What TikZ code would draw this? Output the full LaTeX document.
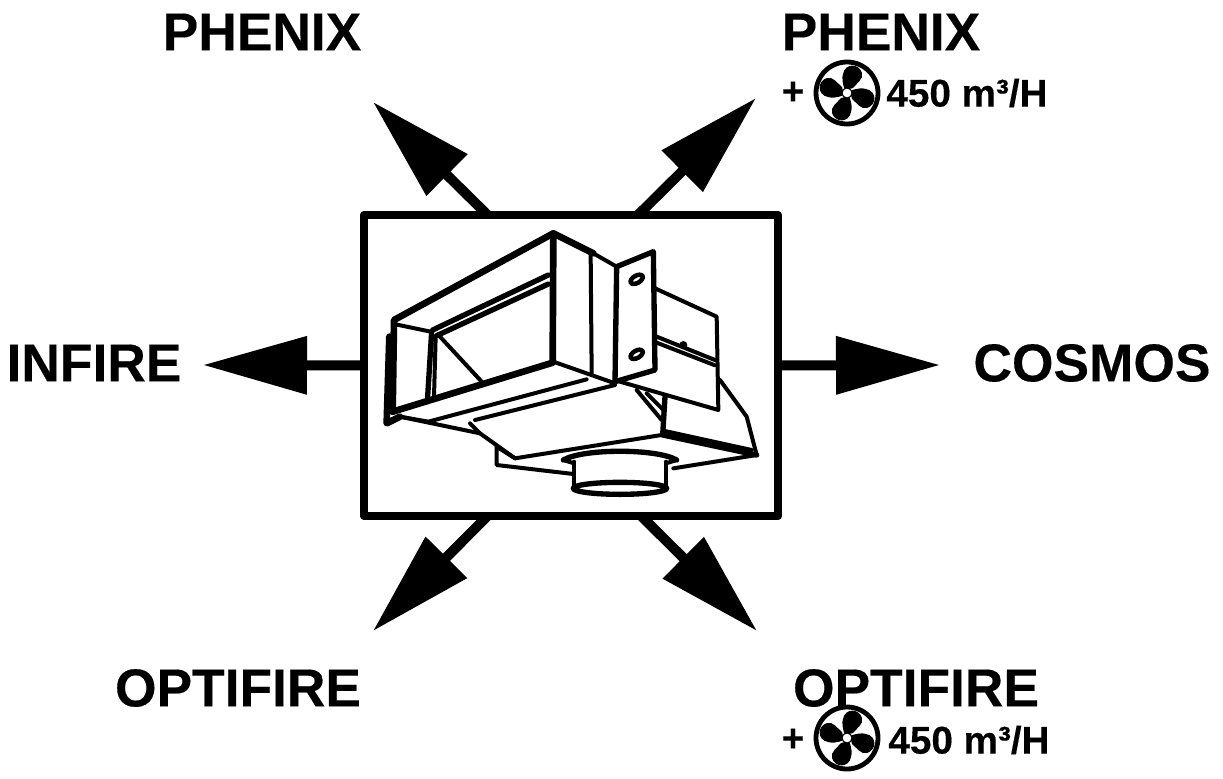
\documentclass[tikz,border=0pt]{standalone}
\usepackage{fontspec}
\setmainfont[FakeBold=0.25]{Liberation Sans}
\usetikzlibrary{arrows.meta}
\tikzset{
	bigtext/.style={font=\fontsize{40pt}{44pt}\selectfont\bfseries, inner sep=0pt},
	smalltext/.style={font=\fontsize{29pt}{32pt}\selectfont\bfseries, inner sep=0pt},
	framebox/.style={draw, line width=6.4pt, line join=round, outer sep=0pt, minimum width=310.5pt, minimum height=225.75pt},
	flowarrow/.style={line width=7.5pt, -{Triangle[length=78pt, width=42pt]}},
	heavyline/.style={line width=5pt, line join=round, line cap=round},
	thickline/.style={line width=4pt, line join=round, line cap=round},
	midline/.style={line width=3pt, line join=round, line cap=round},
	fanwheel/.pic={
		\draw[line width=3.6pt] (0,0) circle (31);
		\foreach \r in {0,90,180,270}
			\fill[rotate=\r] (-2,-3) .. controls (-5,-10) and (-5,-16) .. (-4,-19)
				.. controls (-2,-30) and (12,-30) .. (15,-20)
				.. controls (17,-14) and (9,-9) .. (6,-5) -- cycle;
		\filldraw[fill=white, draw=black, line width=0.8pt] (0,0) circle (5);
	}
}
\begin{document}
\begin{tikzpicture}[x=0.75pt, y=-0.75pt]
	\useasboundingbox (0,0) rectangle (1223,778);
	% Rahmen
	\node[framebox] (box) at (571,365.5) {};
	% Pfeile
	\coordinate (tipnw) at (373,102);
	\coordinate (tipne) at (756,98);
	\coordinate (tipw) at (203,365);
	\coordinate (tipe) at (940,365);
	\coordinate (tipsw) at (373,631);
	\coordinate (tipse) at (757,631);
	\draw[flowarrow] (box.119.5) -- (tipnw);
	\draw[flowarrow] (box.66) -- (tipne);
	\draw[flowarrow] (box.west) -- (tipw);
	\draw[flowarrow] (box.east) -- (tipe);
	\draw[flowarrow] (box.241.1) -- (tipsw);
	\draw[flowarrow] (box.295.3) -- (tipse);
	% Beschriftung
	\node[bigtext] (phenixl) at (262,32) {PHENIX};
	\node[bigtext] (phenixr) at (881,32) {PHENIX};
	\node[bigtext] (infire) at (94,363) {INFIRE};
	\node[bigtext] (cosmos) at (1092,363) {COSMOS};
	\node[bigtext] (optifirel) at (238,688) {OPTIFIRE};
	\node[bigtext] (optifirer) at (916,688) {OPTIFIRE};
	\node[smalltext] (plusup) at (793,93) {+};
	\node[smalltext] (flowup) at (967,93) {450 m³/H};
	\node[smalltext] (plusdown) at (793,740) {+};
	\node[smalltext] (flowdown) at (969,740) {450 m³/H};
	% Ventilatoren
	\pic at (847,93) {fanwheel};
	\pic at (847,738) {fanwheel};
	% Geraet
	\begin{scope}[shift={(370,220)}, x=0.25pt, y=-0.25pt]
		\draw[heavyline] (68,575) -- (72,300) -- (550,40) -- (670,100);
		\draw[heavyline] (550,40) -- (548,428) -- (68,575);
		\draw[heavyline] (58,350) -- (50,610) -- (90,590);
		\draw[thickline] (188,330) -- (535,165);
		\draw[thickline] (200,347) -- (535,192);
		\draw[thickline] (185,335) -- (172,545);
		\draw[midline] (197,350) -- (192,530);
		\draw[midline] (72,312) -- (182,335);
		\draw[midline] (210,350) -- (335,485);
		\draw[midline] (550,425) -- (735,490);
		\draw[midline] (662,105) -- (665,465);
		\draw[midline] (670,100) -- (740,140);
		\draw[thickline] (740,140) -- (850,95) -- (855,450) -- (735,485) -- cycle;
		\draw[midline] (855,205) -- (1040,290) -- (1045,570) -- (750,485);
		\draw[midline] (860,350) -- (1035,420);
		\draw[midline] (860,368) -- (1035,436);
		\fill (940,375) circle (12);
		\draw[midline] (90,590) -- (175,605) -- (650,478);
		\draw[midline] (315,600) -- (735,495);
		\draw[midline] (90,590) -- (330,640) -- (435,715) -- (875,645);
		\draw[midline] (300,610) -- (330,640);
		\draw[midline] (800,510) -- (875,600);
		\draw[midline] (830,520) -- (880,570);
		\draw[thickline] (885,530) -- (878,645) -- (1160,705);
		\draw[midline] (880,632) -- (1145,690);
		\draw[midline] (1050,480) -- (1130,590) -- (1160,705) -- (910,745);
		\draw[midline] (380,680) -- (380,735) -- (610,762);
		\draw[midline] (380,680) -- (435,715);
		\draw[midline] (612,725) -- (612,810);
		\draw[midline] (888,725) -- (888,810);
		\draw[thickline] (750,805) ellipse (140 and 18);
		\draw[thickline] (580,720) .. controls (640,685) and (860,685) .. (920,720);
		\draw[midline] (580,720) -- (612,730);
		\draw[midline] (920,720) -- (888,730);
		% Langloecher
		\filldraw[fill=white, line width=3.4pt, rotate around={30:(800,178)}] (800,178) ellipse (20 and 11);
		\filldraw[fill=white, line width=3.4pt, rotate around={30:(800,403)}] (800,403) ellipse (20 and 11);
	\end{scope}
\end{tikzpicture}
\end{document}
